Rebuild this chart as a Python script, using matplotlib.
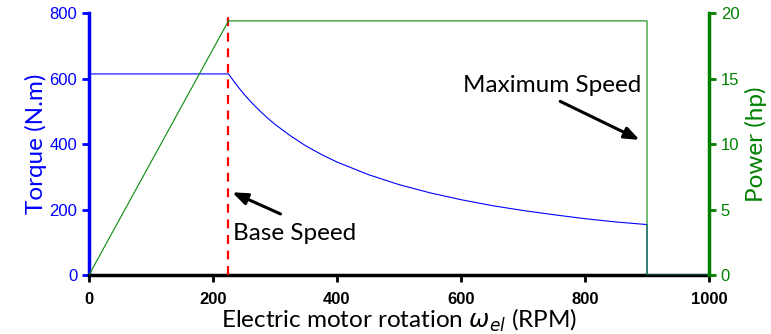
import matplotlib
matplotlib.use("Agg")
import matplotlib.pyplot as plt

# values
rpm = [0, 225, 237, 250, 262, 275, 287, 300, 325, 350, 375, 400, 450, 500, 550,
       600, 650, 700, 750, 800, 850, 900, 900, 1000]
torque = [614, 614, 583, 552, 527, 502, 481, 460, 425, 394, 368, 345, 307, 276, 251,
          230, 212, 197, 184, 172, 162, 154, 0, 0]
power_rpm = [0, 225, 900, 900, 1000]
power = [0, 19.4, 19.4, 0, 0]
base_speed = 225

fig = plt.figure(figsize=(7.71, 3.34), dpi=100)
ax = fig.add_axes([0.1154, 0.1766, 0.8042, 0.7844])
ax2 = ax.twinx()

ax.plot(rpm, torque, color="blue", linewidth=0.8, zorder=3)
ax2.plot(power_rpm, power, color="#0a8a0a", linewidth=0.8)
ax.axvline(base_speed, color="red", linestyle=(0, (4, 3)), linewidth=1.6, zorder=4)

ax.set_xlim(0, 1000)
ax.set_ylim(0, 800)
ax2.set_ylim(0, 20)
ax.set_xticks([0, 200, 400, 600, 800, 1000])
ax.set_yticks([0, 200, 400, 600, 800])
ax2.set_yticks([0, 5, 10, 15, 20])

tick_font = "Liberation Sans"
for lab in ax.get_xticklabels() + ax.get_yticklabels() + ax2.get_yticklabels():
    lab.set_fontfamily(tick_font)
for lab in ax.get_xticklabels():
    lab.set_fontweight("bold")

ax.tick_params(axis="x", colors="black", labelsize=12, width=2, length=5, pad=7)
ax.tick_params(axis="y", colors="blue", labelsize=12, width=2, length=5)
ax2.tick_params(axis="y", colors="green", labelsize=12, width=2, length=5)

for a in (ax, ax2):
    a.spines["top"].set_visible(False)
ax.spines["left"].set_color("blue")
ax.spines["left"].set_linewidth(2.5)
ax.spines["bottom"].set_linewidth(2.5)
ax.spines["right"].set_visible(False)
ax2.spines["left"].set_visible(False)
ax2.spines["bottom"].set_visible(False)
ax2.spines["right"].set_color("green")
ax2.spines["right"].set_linewidth(2.5)

label_font = "Lato"
ax.set_ylabel("Torque (N.m)", color="blue", fontsize=17.5, family=label_font, labelpad=2)
ax2.set_ylabel("Power (hp)", color="green", fontsize=17.5, family=label_font, labelpad=4)
ax.set_xlabel(r"Electric motor rotation $\omega_{el}$ (RPM)", fontsize=17.5,
              family=label_font, labelpad=0)

arrow = dict(arrowstyle="-|>,head_length=0.9,head_width=0.35", lw=2.2, color="black")
ax.annotate("", xy=(227, 256), xytext=(313, 183), arrowprops=arrow)
ax.text(232, 128, "Base Speed", fontsize=17.5, family=label_font, va="center", ha="left")
ax.annotate("", xy=(892, 409), xytext=(756, 534), arrowprops=arrow)
ax.text(603, 580, "Maximum Speed", fontsize=17.5, family=label_font, va="center", ha="left")

fig.savefig("out.png")
